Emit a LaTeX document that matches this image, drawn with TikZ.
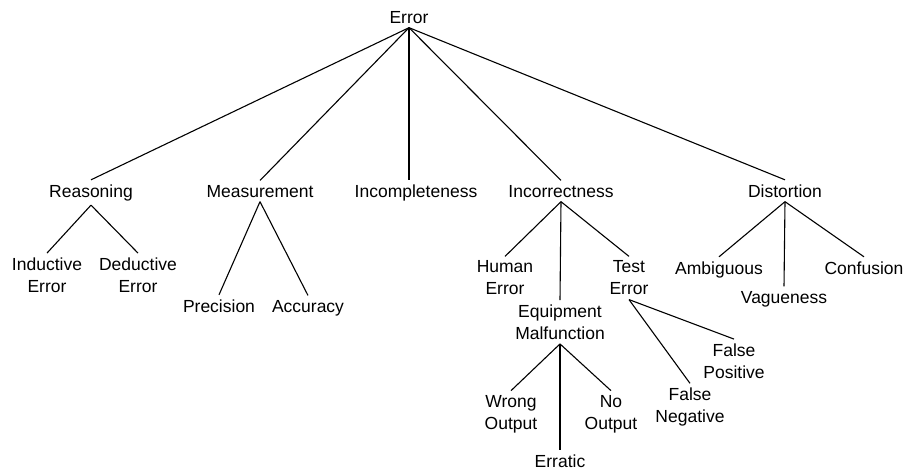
\documentclass[tikz,border=0pt]{standalone}
\usepackage{fontspec}
\setmainfont{Liberation Sans}
\begin{document}
\begin{tikzpicture}[x=1pt,y=-1pt,
  lbl/.style={inner sep=0pt, outer sep=4.5pt, font=\fontsize{17.5}{22}\selectfont},
  lbl2/.style={lbl, align=center},
  edge/.style={line width=1.1pt, black}]
\useasboundingbox (0,0) rectangle (910,469);
% root
\node[lbl,anchor=base] (err) at (409,23) {Error};
% level 1
\node[lbl,anchor=base] (rea) at (91,197) {Reasoning};
\node[lbl,anchor=base] (mea) at (260,197) {Measurement};
\node[lbl,anchor=base] (icp) at (416,197) {Incompleteness};
\node[lbl,anchor=base] (inc) at (561,197) {Incorrectness};
\node[lbl,anchor=base] (dis) at (785,197) {Distortion};
% reasoning children
\node[lbl2] (ind) at (47,275) {Inductive\\Error};
\node[lbl2] (ded) at (138,275) {Deductive\\Error};
% measurement children
\node[lbl,anchor=base] (pre) at (219,312) {Precision};
\node[lbl,anchor=base] (acc) at (308,312) {Accuracy};
% incorrectness children
\node[lbl2] (hum) at (505,278) {Human\\Error};
\node[lbl2] (equ) at (560,322) {Equipment\\Malfunction};
\node[lbl2] (tes) at (629,278) {Test\\Error};
% equipment children
\node[lbl2] (wro) at (511,414) {Wrong\\Output};
\node[lbl,anchor=base] (era) at (560,467) {Erratic};
\node[lbl2] (noo) at (611,414) {No\\Output};
% test error children
\node[lbl2] (fpo) at (734,361) {False\\Positive};
\node[lbl2] (fne) at (690,407) {False\\Negative};
% distortion children
\node[lbl,anchor=base] (amb) at (719,274) {Ambiguous};
\node[lbl,anchor=base] (vag) at (784,303) {Vagueness};
\node[lbl,anchor=base] (con) at (864,274) {Confusion};
% connectors
\draw[edge] (err.south) -- (rea.north);
\draw[edge] (err.south) -- (mea.north);
\draw[edge] (err.south) -- (err.south |- icp.north);
\draw[edge] (err.south) -- (inc.north);
\draw[edge] (err.south) -- (dis.north);
\draw[edge] (rea.south) -- (ind.north);
\draw[edge] (rea.south) -- (ded.north);
\draw[edge] (mea.south) -- (pre.north);
\draw[edge] (mea.south) -- (acc.north);
\draw[edge] (inc.south) -- (hum.north);
\draw[edge] (inc.south) -- (equ.north);
\draw[edge] (inc.south) -- (tes.north);
\draw[edge] (equ.south) -- (wro.north);
\draw[edge] (equ.south) -- (era.north);
\draw[edge] (equ.south) -- (noo.north);
\draw[edge] (tes.south) -- (fpo.north);
\draw[edge] (tes.south) -- (fne.north);
\draw[edge] (dis.south) -- (amb.north);
\draw[edge] (dis.south) -- (vag.north);
\draw[edge] (dis.south) -- (con.north);
\end{tikzpicture}
\end{document}
